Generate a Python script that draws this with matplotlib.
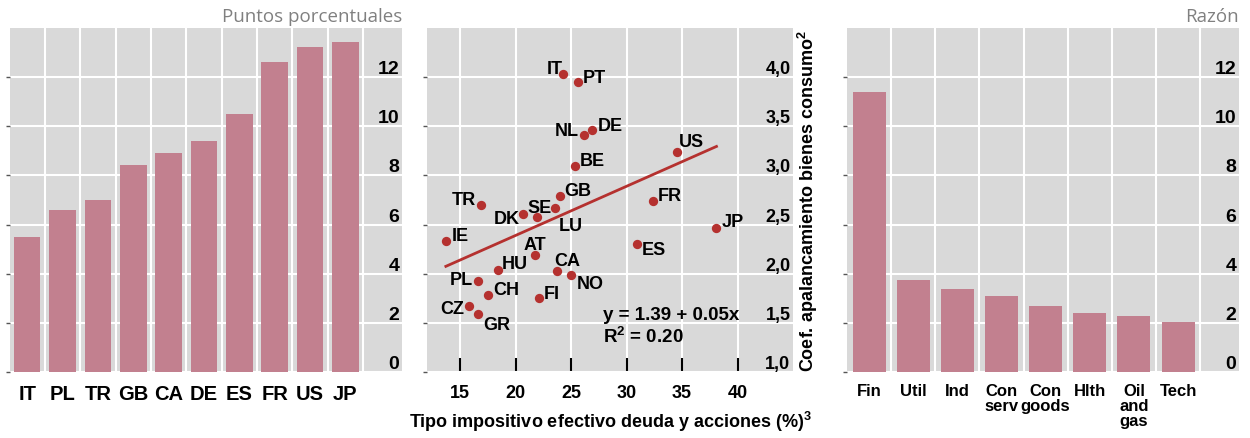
import matplotlib
matplotlib.use("Agg")
import matplotlib.pyplot as plt
from matplotlib import font_manager
import numpy as np

plt.rcParams['font.family'] = ['Liberation Sans', 'DejaVu Sans']
plt.rcParams['mathtext.fontset'] = 'custom'
plt.rcParams['mathtext.rm'] = 'Liberation Sans'
plt.rcParams['mathtext.bf'] = 'Liberation Sans:bold'

# ---------------- data ----------------
left_countries = ['IT', 'PL', 'TR', 'GB', 'CA', 'DE', 'ES', 'FR', 'US', 'JP']
left_values = [5.50, 6.60, 7.00, 8.42, 8.91, 9.40, 10.52, 12.61, 13.21, 13.41]

scatter_codes = ['IT', 'PT', 'NL', 'DE', 'BE', 'US', 'GB', 'FR', 'TR', 'SE', 'DK', 'LU',
                 'JP', 'IE', 'ES', 'AT', 'HU', 'CA', 'NO', 'PL', 'CH', 'FI', 'CZ', 'GR']
tax_rate = [24.3, 25.6, 26.2, 26.9, 25.3, 34.5, 24.0, 32.4, 16.9, 23.5, 20.7, 21.9,
            38.1, 13.7, 30.9, 21.7, 18.4, 23.7, 25.0, 16.6, 17.5, 22.1, 15.8, 16.6]
leverage = [4.03, 3.95, 3.41, 3.46, 3.10, 3.24, 2.79, 2.74, 2.70, 2.67, 2.61, 2.58,
            2.47, 2.33, 2.30, 2.19, 2.04, 2.03, 1.99, 1.93, 1.78, 1.75, 1.67, 1.59]
fit_intercept = 1.39
fit_slope = 0.05
fit_r2 = 0.20

sectors = ['Fin', 'Util', 'Ind', 'Con\nserv', 'Con\ngoods', 'Hlth', 'Oil\nand\ngas', 'Tech']
sector_values = [11.38, 3.74, 3.38, 3.10, 2.69, 2.40, 2.28, 2.03]

bar_ticks = [0, 2, 4, 6, 8, 10, 12]
lev_ticks = [1.0, 1.5, 2.0, 2.5, 3.0, 3.5, 4.0]
tax_ticks = [15, 20, 25, 30, 35, 40]

# label offsets (pixels) for scatter annotations
label_offsets = {
    'IT': (-9, 6), 'PT': (17, 5), 'NL': (-18, 5), 'DE': (18, 5), 'BE': (18, 5),
    'US': (15, 10), 'GB': (18, 6), 'FR': (17, 5), 'TR': (-17, 5), 'SE': (-15, 0),
    'DK': (-17, -5), 'LU': (34, -9), 'JP': (16, 6), 'IE': (14, 6), 'ES': (17, -5),
    'AT': (0, 11), 'HU': (17, 6), 'CA': (10, 10), 'NO': (19, -9), 'PL': (-17, 1),
    'CH': (18, 6), 'FI': (13, 5), 'CZ': (-17, -2), 'GR': (19, -10),
}

# ---------------- styling ----------------
W, H = 1250, 439
BG = '#d9d9d9'
BAR = '#c2808f'
DOT = '#b5312f'
GREY_T = '#808080'

installed = {f.name for f in font_manager.fontManager.ttflist}
if 'Liberation Sans Narrow' in installed:
    SECTOR_FONT = dict(family=['Liberation Sans Narrow', 'Liberation Sans'], fontsize=13.5)
else:
    SECTOR_FONT = dict(family=['Liberation Sans', 'DejaVu Sans'], fontsize=12)

fig = plt.figure(figsize=(W / 100, H / 100), dpi=100)


def px_axes(x0, x1, top, bottom):
    return fig.add_axes([x0 / W, (H - bottom) / H, (x1 - x0) / W, (bottom - top) / H])


def style_common(ax):
    ax.set_facecolor(BG)
    for s in ax.spines.values():
        s.set_visible(False)
    ax.set_axisbelow(True)


def right_inside_labels(ax, ticks, fmt, size):
    ax.set_yticks(ticks)
    ax.yaxis.set_ticks_position('left')
    ax.tick_params(axis='y', left=True, length=3, width=1, color='#555555',
                   labelleft=False)
    for v in ticks:
        ax.text(0.993, v, fmt(v), transform=ax.get_yaxis_transform(),
                ha='right', va='bottom', fontsize=size, fontweight='bold')


# ---------- left panel ----------
ax1 = px_axes(9.5, 402, 29, 373)
style_common(ax1)
x1 = np.arange(len(left_countries))
ax1.bar(x1, left_values, width=0.75, color=BAR, zorder=2)
ax1.set_xlim(-0.5, 10.6)
ax1.set_ylim(0, 14)
ax1.set_xticks(x1)
ax1.set_xticklabels(left_countries, fontsize=14.5, fontweight='bold')
ax1.set_xticks(np.arange(len(left_countries)) + 0.5, minor=True)
ax1.tick_params(axis='x', which='both', length=0, pad=8.5)
ax1.grid(which='minor', axis='x', color='white', lw=1.5)
ax1.grid(which='major', axis='y', color='white', lw=1.5)
right_inside_labels(ax1, bar_ticks, lambda v: f'{v:d}', 14)
ax1.text(1.0, 1.02, 'Puntos porcentuales', transform=ax1.transAxes, ha='right',
         va='baseline', fontsize=13.5, color=GREY_T, family=['Open Sans', 'DejaVu Sans'])

# ---------- middle panel ----------
ax2 = px_axes(427, 793, 29, 373)
style_common(ax2)
ax2.set_xlim(12, 45)
ax2.set_ylim(1.0, 4.5)
ax2.set_xticks(tax_ticks)
ax2.set_xticklabels([str(t) for t in tax_ticks], fontsize=13, fontweight='bold')
ax2.tick_params(axis='x', direction='in', length=10, width=1.5, color='black', pad=9)
ax2.grid(axis='both', color='white', lw=1.5)
right_inside_labels(ax2, lev_ticks, lambda v: f'{v:.1f}'.replace('.', ','), 13)

xfit = np.array([min(tax_rate), max(tax_rate)])
ax2.plot(xfit, fit_intercept + fit_slope * xfit, color=DOT, lw=2, zorder=3)
ax2.scatter(tax_rate, leverage, s=45, color=DOT, zorder=4, linewidths=0)
for code, xv, yv in zip(scatter_codes, tax_rate, leverage):
    dx, dy = label_offsets[code]
    ax2.annotate(code, (xv, yv), xytext=(dx, dy), textcoords='offset pixels',
                 ha='center', va='center', fontsize=13, fontweight='bold', zorder=5)
ax2.text(27.9, 1.59, f'y = {fit_intercept:.2f} + {fit_slope:.2f}x', fontsize=13.5,
         fontweight='bold', ha='left', va='center')
ax2.text(27.9, 1.37, r'R$^\mathbf{2}$' + f' = {fit_r2:.2f}', fontsize=13.5,
         fontweight='bold', ha='left', va='center')
ax2.set_xlabel(r'Tipo impositivo efectivo deuda y acciones (%)$^\mathbf{3}$', fontsize=13,
               fontweight='bold', labelpad=5)
ax2.text(1.041, 0.5, r'Coef. apalancamiento bienes consumo$^\mathbf{2}$',
         transform=ax2.transAxes, rotation=90, ha='center', va='center',
         fontsize=13, fontweight='bold')

# ---------- right panel ----------
ax3 = px_axes(847, 1239, 29, 373)
style_common(ax3)
x3 = np.arange(len(sectors))
ax3.bar(x3, sector_values, width=0.75, color=BAR, zorder=2)
ax3.set_xlim(-0.5, 8.38)
ax3.set_ylim(0, 14)
ax3.set_xticks(x3)
ax3.set_xticklabels(sectors, fontweight='bold', linespacing=1.0, va='top', **SECTOR_FONT)
ax3.set_xticks(x3 + 0.5, minor=True)
ax3.tick_params(axis='x', which='both', length=0, pad=8)
ax3.grid(which='minor', axis='x', color='white', lw=1.5)
ax3.grid(which='major', axis='y', color='white', lw=1.5)
right_inside_labels(ax3, bar_ticks, lambda v: f'{v:d}', 14)
ax3.text(1.0, 1.02, 'Razón', transform=ax3.transAxes, ha='right',
         va='baseline', fontsize=13.5, color=GREY_T, family=['Open Sans', 'DejaVu Sans'])

fig.savefig('out.png', dpi=100)
